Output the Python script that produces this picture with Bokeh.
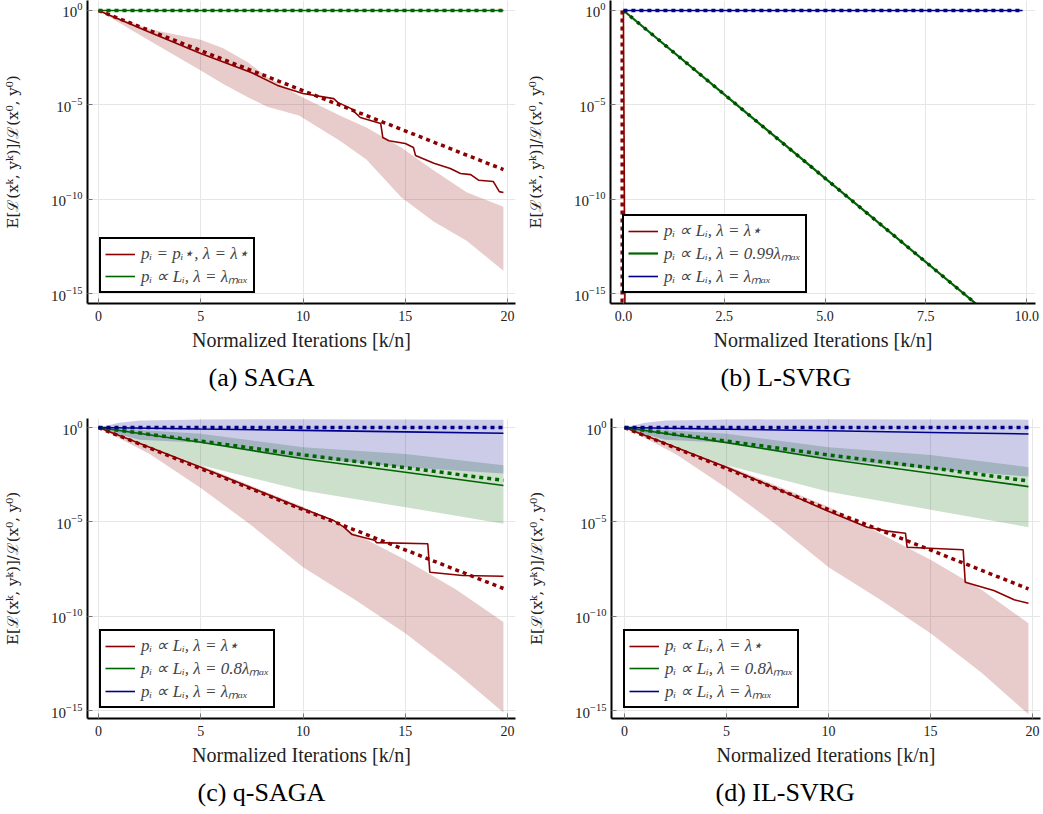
import numpy as np
from bokeh.plotting import figure
from bokeh.layouts import column, row
from bokeh.models import FixedTicker, Range1d, Title, NumeralTickFormatter
from bokeh.embed import file_html
from bokeh.resources import INLINE

RED = "#8b0000"
GREEN = "#006400"
BLUE = "#00008b"
SERIF = "Liberation Serif"

# ---------------- data (log10 of normalized loss) ----------------
# (a) SAGA
saga_red_x = [0, 2.5, 5, 7.5, 8.75, 10, 11.5, 11.7, 12.35, 12.8, 13.8, 13.9, 14.2, 15.0, 15.4, 15.5, 16.4, 17.2, 17.7, 18.2, 18.6, 19.3, 19.6, 19.8]
saga_red_y = [0, -1.15, -2.28, -3.3, -3.97, -4.4, -4.67, -4.87, -5.2, -5.67, -5.99, -6.73, -6.9, -7.05, -7.26, -7.68, -8.1, -8.37, -8.64, -8.7, -9.0, -9.06, -9.6, -9.65]
saga_red_dot_x = [0, 10, 19.8]
saga_red_dot_y = [0, -4.25, -8.43]
saga_band_up_x = [0, 2.5, 5, 6.1, 7.3, 8.25, 9.8, 11.8, 13.1, 14.8, 16.4, 18.0, 19.8]
saga_band_up_y = [0, -1.0, -1.55, -2.0, -2.74, -3.53, -4.5, -5.56, -6.2, -7.26, -8.48, -9.64, -10.4]
saga_band_lo_y = [0, -1.6, -3.18, -3.9, -4.6, -5.1, -5.56, -6.9, -7.9, -9.9, -11.2, -12.2, -13.8]
saga_green_x = [0, 19.8]
saga_green_y = [0, 0]

# (b) L-SVRG
lsvrg_red_x = [0.0, 0.04]
lsvrg_red_dot_x = [-0.03, -0.03]
lsvrg_red_y = [0, -16.5]
lsvrg_green_x = [0, 9.0]
lsvrg_green_y = [0, -16.0]
lsvrg_blue_x = [0, 9.9]
lsvrg_blue_y = [0, 0]

# (c) q-SAGA
qsaga_red_x = [0, 2.5, 5, 7.5, 10, 11.5, 12.0, 12.4, 13.5, 13.6, 16.1, 16.2, 17.8, 19.8]
qsaga_red_y = [0, -1.05, -2.1, -3.2, -4.3, -4.93, -5.28, -5.67, -5.97, -6.1, -6.16, -7.67, -7.84, -7.88]
qsaga_red_dot_x = [0, 10, 19.8]
qsaga_red_dot_y = [0, -4.35, -8.53]
qsaga_red_band_x = [0, 2.5, 5, 7.5, 10, 12.5, 15, 17.5, 19.8]
qsaga_red_band_up = [0, -1.0, -2.0, -3.1, -4.2, -5.6, -7.0, -8.6, -10.3]
qsaga_red_band_lo = [0, -1.4, -3.2, -5.2, -7.4, -9.1, -10.9, -13.0, -15.1]
qsaga_green_x = [0, 5, 10, 15, 19.8]
qsaga_green_y = [0, -0.78, -1.65, -2.37, -3.07]
qsaga_green_dot_y = [0, -0.72, -1.45, -2.12, -2.8]
qsaga_green_band_up = [0, -0.33, -1.04, -1.4, -2.0]
qsaga_green_band_lo = [0, -2.0, -3.34, -4.22, -5.1]
qsaga_blue_y = [0, -0.08, -0.15, -0.23, -0.3]
qsaga_blue_dot_y = [0, 0, 0, 0, 0]
qsaga_blue_band_x = [0, 1, 2, 5, 10, 15, 19.8]
qsaga_blue_band_up = [0, 0.25, 0.38, 0.43, 0.44, 0.43, 0.42]
qsaga_blue_band_lo = [0, -0.35, -0.65, -0.8, -1.6, -2.1, -2.44]

# (d) IL-SVRG
ilsvrg_red_x = [0, 2.5, 5, 7.5, 9.9, 11.9, 12.9, 13.77, 13.85, 16.6, 16.7, 18.1, 19.1, 19.8]
ilsvrg_red_y = [0, -1.05, -2.1, -3.25, -4.4, -5.28, -5.49, -5.6, -6.34, -6.48, -8.2, -8.64, -9.13, -9.31]
ilsvrg_red_dot_x = [0, 10, 19.8]
ilsvrg_red_dot_y = [0, -4.35, -8.55]
ilsvrg_red_band_x = [0, 2.5, 5, 7.5, 10, 12.5, 15, 17.5, 19.8]
ilsvrg_red_band_up = [0, -1.0, -2.0, -3.1, -4.2, -5.6, -7.0, -8.6, -10.37]
ilsvrg_red_band_lo = [0, -1.4, -3.2, -5.2, -7.4, -9.1, -10.9, -13.0, -15.2]
ilsvrg_green_x = [0, 5, 10, 15, 19.8]
ilsvrg_green_y = [0, -0.8, -1.68, -2.42, -3.13]
ilsvrg_green_dot_y = [0, -0.72, -1.45, -2.13, -2.83]
ilsvrg_green_band_up = [0, -0.33, -1.04, -1.45, -2.1]
ilsvrg_green_band_lo = [0, -2.0, -3.4, -4.35, -5.28]
ilsvrg_blue_y = [0, -0.09, -0.17, -0.26, -0.34]
ilsvrg_blue_dot_y = [0, 0, 0, 0, 0]
ilsvrg_blue_band_x = [0, 1, 2, 5, 10, 15, 19.8]
ilsvrg_blue_band_up = [0, 0.25, 0.38, 0.43, 0.44, 0.43, 0.42]
ilsvrg_blue_band_lo = [0, -0.35, -0.65, -0.8, -1.65, -2.2, -2.6]

y_ticks = [1e-15, 1e-10, 1e-5, 1.0]

YLABEL = "E[ℒ(xᵏ, yᵏ)]/ℒ(x⁰, y⁰)"
XLABEL = "Normalized Iterations [k/n]"


def p10(a):
    return [10.0 ** v for v in a]


def make_fig(width, height, borders, xr, yr, xticks, caption, cap_offset, xfmt=None):
    bl, br, bt, bb = borders
    p = figure(width=width, height=height, output_backend="svg", toolbar_location=None,
               y_axis_type="log", x_range=Range1d(*xr),
               y_range=Range1d(10.0 ** yr[0], 10.0 ** yr[1]),
               min_border_left=bl, min_border_right=br, min_border_top=bt, min_border_bottom=bb)
    p.outline_line_color = None
    p.background_fill_color = "white"
    p.xaxis.ticker = FixedTicker(ticks=xticks)
    if xfmt is not None:
        p.xaxis.formatter = NumeralTickFormatter(format=xfmt)
    p.yaxis.ticker = FixedTicker(ticks=y_ticks)
    for ax in (p.xaxis[0], p.yaxis[0]):
        ax.axis_line_color = "black"
        ax.axis_line_width = 2
        ax.major_tick_in = 5
        ax.major_tick_out = 0
        ax.major_tick_line_color = "#777777"
        ax.minor_tick_line_color = None
        ax.major_label_text_font = SERIF
        ax.major_label_text_color = "#222222"
        ax.axis_label_text_font = SERIF
        ax.axis_label_text_font_style = "normal"
        ax.axis_label_text_color = "#222222"
    p.xaxis.major_label_text_font_size = "14px"
    p.yaxis.major_label_text_font_size = "15px"
    p.xaxis.major_label_standoff = 7
    p.xaxis.axis_label = XLABEL
    p.xaxis.axis_label_text_font_size = "20px"
    p.xaxis.axis_label_standoff = 5
    p.yaxis.axis_label = YLABEL
    p.yaxis.axis_label_text_font = "DejaVu Serif"
    p.yaxis.axis_label_text_font_size = "15px"
    p.yaxis.major_label_standoff = 5
    p.yaxis.axis_label_standoff = 26
    p.xgrid.grid_line_color = "#e6e6e6"
    p.ygrid.grid_line_color = "#e6e6e6"
    p.add_layout(Title(text=caption, align="left", offset=cap_offset, text_font=SERIF,
                       text_font_size="26px", text_font_style="normal", text_color="black",
                       standoff=14), "below")
    return p


def style_legend(p):
    leg = p.legend[0]
    leg.location = (12, 10)
    leg.border_line_color = "black"
    leg.border_line_width = 2
    leg.border_line_alpha = 1
    leg.background_fill_alpha = 1
    leg.label_text_font = SERIF
    leg.label_text_font_style = "italic"
    leg.label_text_font_size = "17px"
    leg.glyph_width = 30
    leg.glyph_height = 16
    leg.label_height = 16
    leg.spacing = 0
    leg.padding = 4
    leg.label_standoff = 6


DOT = dict(line_width=3.5, line_dash="4 4")

# ---- (a) SAGA ----
pa = make_fig(520, 408, (87, 5, 0, 105), (-0.538, 20.39), (-15.53, 0.53),
              [0, 5, 10, 15, 20], "(a) SAGA", 121)
pa.varea(x=saga_band_up_x, y1=p10(saga_band_lo_y), y2=p10(saga_band_up_y), fill_color=RED, fill_alpha=0.2)
pa.line(saga_red_x, p10(saga_red_y), line_color=RED, line_width=1.6, legend_label="pᵢ = pᵢ⋆, λ = λ⋆")
pa.line(saga_green_x, p10(saga_green_y), line_color=GREEN, line_width=1.6, legend_label="pᵢ ∝ Lᵢ, λ = λₘₐₓ")
pa.line(saga_red_dot_x, p10(saga_red_dot_y), line_color=RED, **DOT)
pa.line(saga_green_x, p10(saga_green_y), line_color=GREEN, **DOT)
style_legend(pa)

# ---- (b) L-SVRG ----
pb = make_fig(523, 408, (90, 8, 0, 105), (-0.32, 10.22), (-15.53, 0.53),
              [0, 2.5, 5, 7.5, 10], "(b) L-SVRG", 110, xfmt="0.0")
pb.line(lsvrg_red_dot_x, p10(lsvrg_red_y), line_color=RED, **DOT)
pb.line(lsvrg_red_x, p10(lsvrg_red_y), line_color=RED, line_width=1.6, legend_label="pᵢ ∝ Lᵢ, λ = λ⋆")
pb.line(lsvrg_green_x, p10(lsvrg_green_y), line_color=GREEN, line_width=2.2, legend_label="pᵢ ∝ Lᵢ, λ = 0.99λₘₐₓ")
pb.line(lsvrg_blue_x, p10(lsvrg_blue_y), line_color=BLUE, line_width=1.6, legend_label="pᵢ ∝ Lᵢ, λ = λₘₐₓ")
pb.line(lsvrg_green_x, p10(lsvrg_green_y), line_color="#004d00", line_width=3.5, line_dash="3 6")
pb.line(lsvrg_blue_x, p10(lsvrg_blue_y), line_color=BLUE, **DOT)
style_legend(pb)

# ---- (c) q-SAGA ----
pc = make_fig(520, 406, (87, 5, 10, 96), (-0.538, 20.39), (-15.42, 0.48),
              [0, 5, 10, 15, 20], "(c) q-SAGA", 110)
pc.varea(x=qsaga_red_band_x, y1=p10(qsaga_red_band_lo), y2=p10(qsaga_red_band_up), fill_color=RED, fill_alpha=0.2)
pc.varea(x=qsaga_green_x, y1=p10(qsaga_green_band_lo), y2=p10(qsaga_green_band_up), fill_color=GREEN, fill_alpha=0.2)
pc.varea(x=qsaga_blue_band_x, y1=p10(qsaga_blue_band_lo), y2=p10(qsaga_blue_band_up), fill_color=BLUE, fill_alpha=0.2)
pc.line(qsaga_red_x, p10(qsaga_red_y), line_color=RED, line_width=1.6, legend_label="pᵢ ∝ Lᵢ, λ = λ⋆")
pc.line(qsaga_green_x, p10(qsaga_green_y), line_color=GREEN, line_width=1.6, legend_label="pᵢ ∝ Lᵢ, λ = 0.8λₘₐₓ")
pc.line(qsaga_green_x, p10(qsaga_blue_y), line_color=BLUE, line_width=1.6, legend_label="pᵢ ∝ Lᵢ, λ = λₘₐₓ")
pc.line(qsaga_red_dot_x, p10(qsaga_red_dot_y), line_color=RED, **DOT)
pc.line(qsaga_green_x, p10(qsaga_green_dot_y), line_color=GREEN, **DOT)
pc.line(qsaga_green_x, p10(qsaga_blue_dot_y), line_color=BLUE, **DOT)
style_legend(pc)

# ---- (d) IL-SVRG ----
pd_ = make_fig(523, 406, (91, 3, 10, 96), (-0.64, 20.39), (-15.42, 0.48),
               [0, 5, 10, 15, 20], "(d) IL-SVRG", 104)
pd_.varea(x=ilsvrg_red_band_x, y1=p10(ilsvrg_red_band_lo), y2=p10(ilsvrg_red_band_up), fill_color=RED, fill_alpha=0.2)
pd_.varea(x=ilsvrg_green_x, y1=p10(ilsvrg_green_band_lo), y2=p10(ilsvrg_green_band_up), fill_color=GREEN, fill_alpha=0.2)
pd_.varea(x=ilsvrg_blue_band_x, y1=p10(ilsvrg_blue_band_lo), y2=p10(ilsvrg_blue_band_up), fill_color=BLUE, fill_alpha=0.2)
pd_.line(ilsvrg_red_x, p10(ilsvrg_red_y), line_color=RED, line_width=1.6, legend_label="pᵢ ∝ Lᵢ, λ = λ⋆")
pd_.line(ilsvrg_green_x, p10(ilsvrg_green_y), line_color=GREEN, line_width=1.6, legend_label="pᵢ ∝ Lᵢ, λ = 0.8λₘₐₓ")
pd_.line(ilsvrg_green_x, p10(ilsvrg_blue_y), line_color=BLUE, line_width=1.6, legend_label="pᵢ ∝ Lᵢ, λ = λₘₐₓ")
pd_.line(ilsvrg_red_dot_x, p10(ilsvrg_red_dot_y), line_color=RED, **DOT)
pd_.line(ilsvrg_green_x, p10(ilsvrg_green_dot_y), line_color=GREEN, **DOT)
pd_.line(ilsvrg_green_x, p10(ilsvrg_blue_dot_y), line_color=BLUE, **DOT)
style_legend(pd_)

layout = column(row(pa, pb), row(pc, pd_))
open("out.html", "w").write(file_html(layout, INLINE))
